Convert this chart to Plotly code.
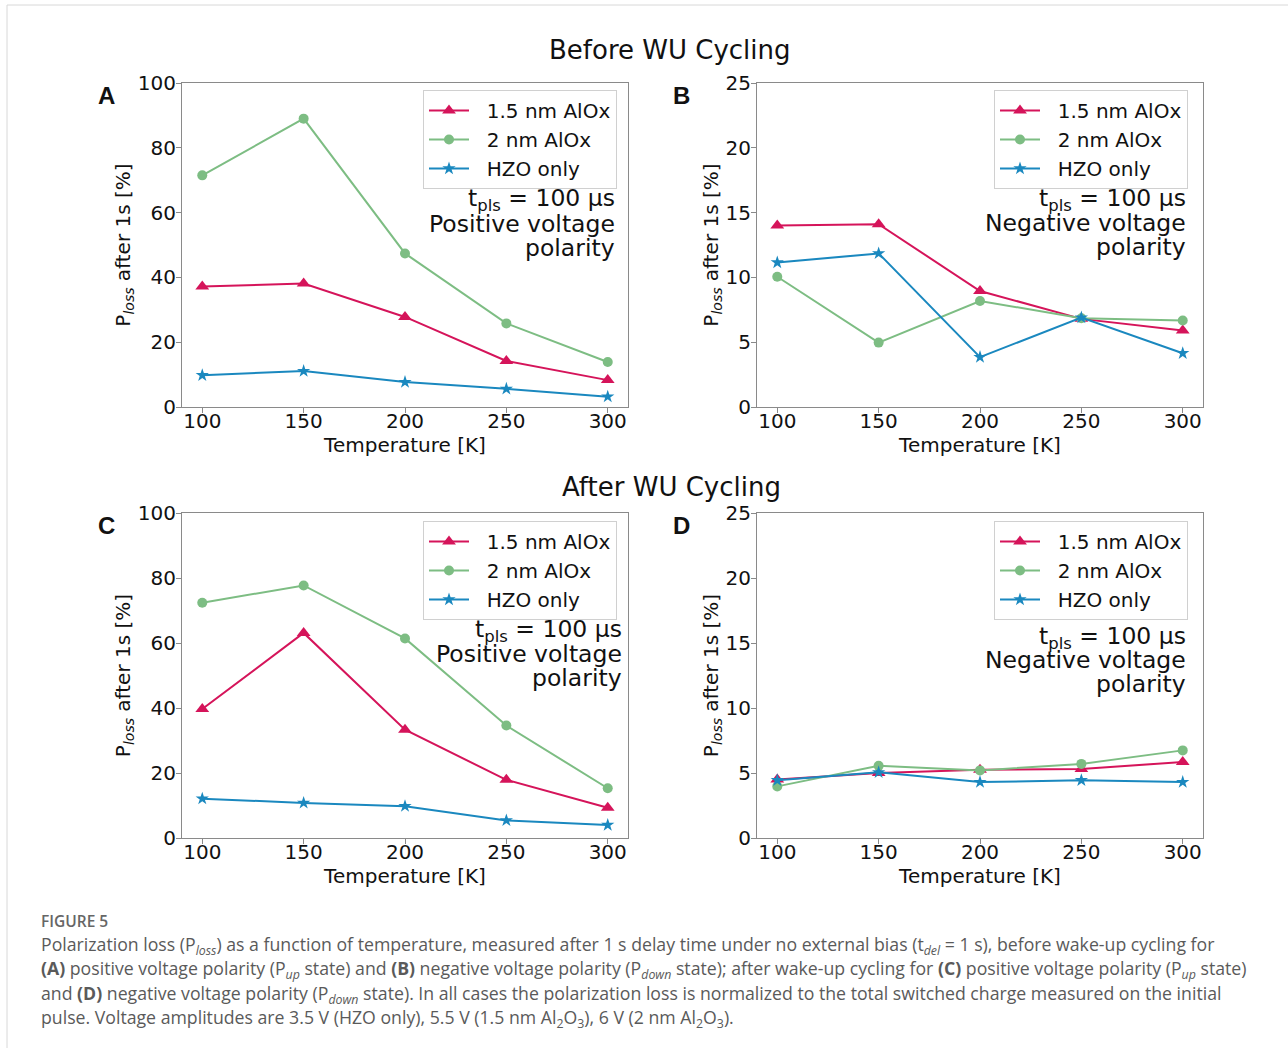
import plotly.graph_objects as go

W, H = 1288, 1048

temperature = [100, 150, 200, 250, 300]
series_names = ["1.5 nm AlOx", "2 nm AlOx", "HZO only"]

# Panel A: before WU cycling, positive polarity
a_15nm = [37.2, 38.1, 27.8, 14.2, 8.3]
a_2nm = [71.5, 89.0, 47.4, 25.8, 13.9]
a_hzo = [9.8, 11.1, 7.7, 5.6, 3.2]
# Panel B: before WU cycling, negative polarity
b_15nm = [14.0, 14.1, 8.95, 6.8, 5.9]
b_2nm = [10.05, 4.97, 8.18, 6.85, 6.67]
b_hzo = [11.15, 11.85, 3.85, 6.9, 4.15]
# Panel C: after WU cycling, positive polarity
c_15nm = [39.7, 63.1, 33.3, 17.9, 9.3]
c_2nm = [72.4, 77.7, 61.4, 34.6, 15.3]
c_hzo = [12.1, 10.8, 9.8, 5.4, 4.0]
# Panel D: after WU cycling, negative polarity
d_15nm = [4.5, 5.0, 5.25, 5.3, 5.85]
d_2nm = [3.97, 5.55, 5.2, 5.7, 6.74]
d_hzo = [4.44, 5.05, 4.3, 4.44, 4.3]

x_ticks = [100, 150, 200, 250, 300]
y_ticks_pos = [0, 20, 40, 60, 80, 100]
y_ticks_neg = [0, 5, 10, 15, 20, 25]

colors = ["#d5145a", "#7dbd83", "#1a88bf"]
symbols = ["triangle-up", "circle", "star"]
msizes = [12, 10, 10]

def px(x):
    return x / W

def py(y):
    return 1 - y / H

panels = [
    ("A", [a_15nm, a_2nm, a_hzo], (182, 628), (83, 407), 100, y_ticks_pos, "legend", "Positive", 617, (200, 224, 248), (617, 90)),
    ("B", [b_15nm, b_2nm, b_hzo], (757, 1203), (83, 407), 25, y_ticks_neg, "legend2", "Negative", 1188, (200, 223, 247), (1188, 90)),
    ("C", [c_15nm, c_2nm, c_hzo], (182, 628), (513, 838), 100, y_ticks_pos, "legend3", "Positive", 624, (630, 654, 678), (617, 521)),
    ("D", [d_15nm, d_2nm, d_hzo], (757, 1203), (513, 838), 25, y_ticks_neg, "legend4", "Negative", 1188, (637, 660, 684), (1188, 521)),
]

fig = go.Figure()
layout = dict(
    width=W, height=H, margin=dict(l=0, r=0, t=0, b=0, autoexpand=False),
    paper_bgcolor="white", plot_bgcolor="white",
    font=dict(family="DejaVu Sans", size=20, color="#111"),
    showlegend=True,
)
annotations = []
axis_common = dict(
    showgrid=False, zeroline=False, showline=True, mirror=True, automargin=False,
    linecolor="#8a8a8a", linewidth=1.2, ticks="outside", ticklen=5,
    tickcolor="#8a8a8a", tickfont=dict(size=20, color="#111"),
)

nb = "\u00a0\u00a0"
for i, (letter, data, (x0, x1), (y0, y1), ymax, yt, leg, pol, tx, tys, (lx, ly)) in enumerate(panels):
    n = "" if i == 0 else str(i + 1)
    xa, ya = "x" + n, "y" + n
    for k in range(3):
        fig.add_trace(go.Scatter(
            x=temperature, y=data[k], name=nb + series_names[k], mode="lines+markers",
            line=dict(color=colors[k], width=2),
            marker=dict(symbol=symbols[k], size=msizes[k], color=colors[k]),
            xaxis=xa, yaxis=ya, legend=leg,
        ))
    layout["xaxis" + n] = dict(
        axis_common, domain=[px(x0), px(x1)], range=[90, 310], tickvals=x_ticks,
        anchor=ya, ticklabelstandoff=-9,
        title=dict(text="Temperature [K]", font=dict(size=20), standoff=0),
    )
    layout["yaxis" + n] = dict(
        axis_common, domain=[py(y1), py(y0)], range=[0, ymax], tickvals=yt,
        anchor=xa, ticklabelstandoff=-4,
        title=dict(text="P<sub><i>loss</i></sub> after 1s [%]", font=dict(size=20), standoff=1),
    )
    layout[leg] = dict(
        x=px(lx), y=py(ly), xanchor="right", yanchor="top", xref="paper", yref="paper",
        bgcolor="rgba(255,255,255,0.8)", bordercolor="#d0d0d0", borderwidth=1,
        font=dict(size=20, color="#111"), itemwidth=40, tracegroupgap=0,
    )
    lines = ["t<sub>pls</sub> = 100 μs", pol + " voltage", "polarity"]
    for t, yy in zip(lines, tys):
        annotations.append(dict(
            text=t, x=px(tx), y=py(yy), xref="paper", yref="paper",
            xanchor="right", yanchor="middle", showarrow=False,
            font=dict(size=23.5, color="#111"),
        ))
    annotations.append(dict(
        text="<b>" + letter + "</b>", x=px(x0 - 76), y=py(y0 + 12), xref="paper", yref="paper",
        xanchor="center", yanchor="middle", showarrow=False, font=dict(size=24, color="#111", family="Liberation Sans"),
    ))

annotations.append(dict(text="Before WU Cycling", x=px(670), y=py(50), xref="paper", yref="paper",
                        xanchor="center", yanchor="middle", showarrow=False, font=dict(size=26, color="#111")))
annotations.append(dict(text="After WU Cycling", x=px(671), y=py(487), xref="paper", yref="paper",
                        xanchor="center", yanchor="middle", showarrow=False, font=dict(size=26, color="#111")))

caption_lines = [
    "Polarization loss (P<sub><i>loss</i></sub>) as a function of temperature, measured after 1 s delay time under no external bias (t<sub><i>del</i></sub> = 1 s), before wake-up cycling for",
    "<b>(A)</b> positive voltage polarity (P<sub><i>up</i></sub> state) and <b>(B)</b> negative voltage polarity (P<sub><i>down</i></sub> state); after wake-up cycling for <b>(C)</b> positive voltage polarity (P<sub><i>up</i></sub> state)",
    "and <b>(D)</b> negative voltage polarity (P<sub><i>down</i></sub> state). In all cases the polarization loss is normalized to the total switched charge measured on the initial",
    "pulse. Voltage amplitudes are 3.5 V (HZO only), 5.5 V (1.5 nm Al<sub>2</sub>O<sub>3</sub>), 6 V (2 nm Al<sub>2</sub>O<sub>3</sub>).",
]
annotations.append(dict(text="FIGURE 5", x=px(39), y=py(921), xref="paper", yref="paper",
                        xanchor="left", yanchor="middle", showarrow=False,
                        font=dict(size=15.5, color="#666", family="Open Sans", weight=600)))
for t, yy in zip(caption_lines, (945, 969, 994, 1018)):
    annotations.append(dict(text=t, x=px(39), y=py(yy), xref="paper", yref="paper",
                            xanchor="left", yanchor="middle", showarrow=False,
                            font=dict(size=17.7, color="#5a5a5a", family="Open Sans")))

layout["annotations"] = annotations
layout["shapes"] = [
    dict(type="line", xref="paper", yref="paper", x0=px(7), x1=1, y0=py(5), y1=py(5), line=dict(color="#d8d8d8", width=1)),
    dict(type="line", xref="paper", yref="paper", x0=px(7), x1=px(7), y0=py(5), y1=0, line=dict(color="#d8d8d8", width=1)),
]
fig.update_layout(**layout)
fig.write_html("out.html")
